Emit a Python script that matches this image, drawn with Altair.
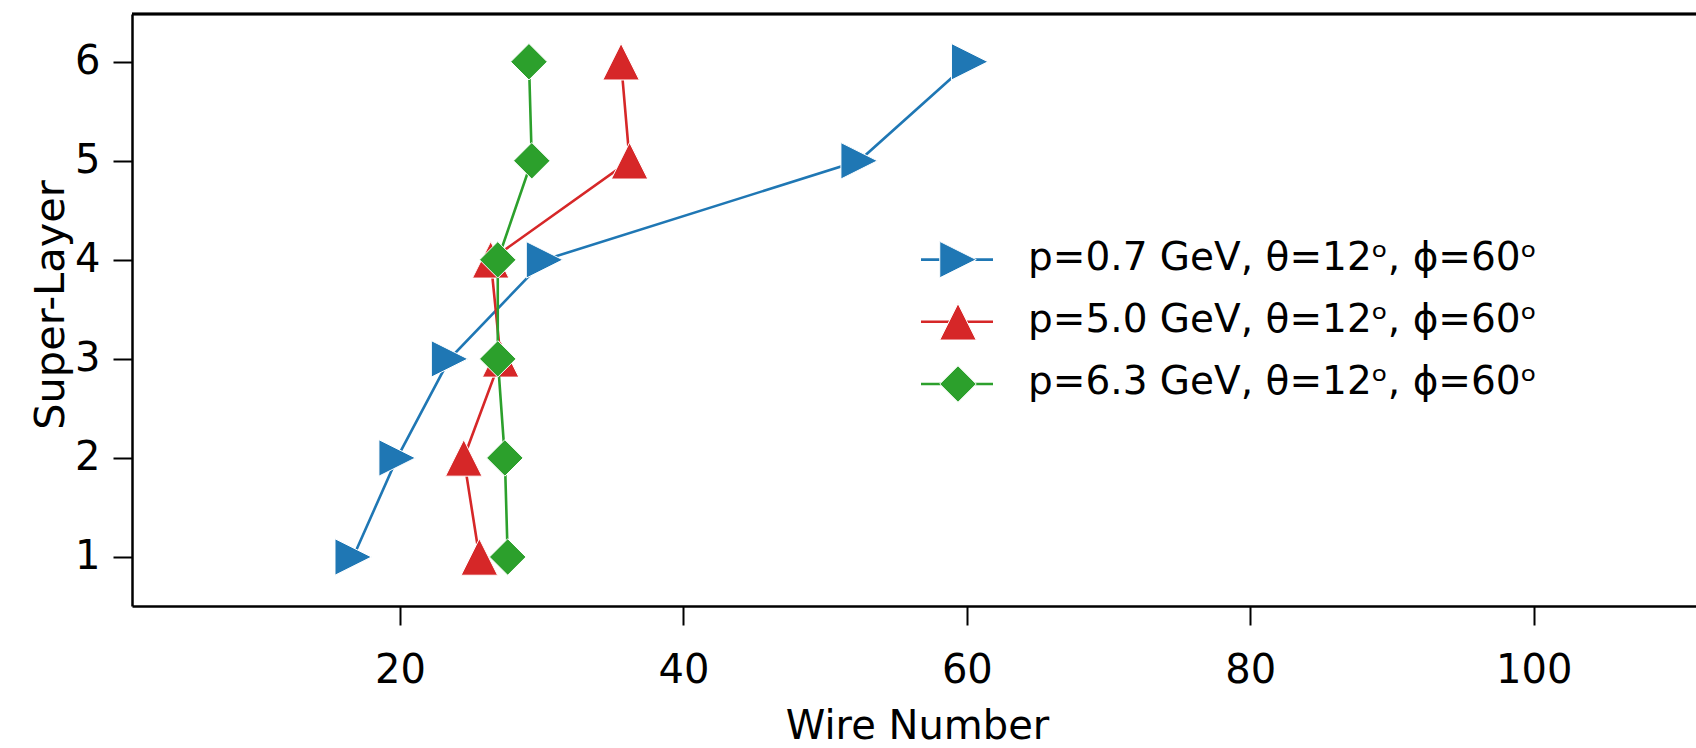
import altair as alt
import pandas as pd

# Super-layer index (y) and the mean wire number hit in each layer (x)
super_layers = [1, 2, 3, 4, 5, 6]
series_labels = [
    "p=0.7 GeV, θ=12ᵒ, ϕ=60ᵒ",
    "p=5.0 GeV, θ=12ᵒ, ϕ=60ᵒ",
    "p=6.3 GeV, θ=12ᵒ, ϕ=60ᵒ",
]
wire_p07 = [16.7, 19.8, 23.5, 30.2, 52.4, 60.2]
wire_p50 = [25.6, 24.5, 27.1, 26.4, 36.2, 35.6]
wire_p63 = [27.6, 27.4, 26.9, 26.9, 29.3, 29.1]
x_ticks = [20, 40, 60, 80, 100]

colors = ["#1f77b4", "#d62728", "#2ca02c"]
# triangle-right, triangle-up, diamond, each spanning the full [-1, 1] box
shapes = ["M1,0L-1,1L-1,-1Z", "M0,-1L1,1L-1,1Z", "M0,-1L1,0L0,1L-1,0Z"]

FONT = "DejaVu Sans"
W, H = 1564, 592

rows = []
for label, wires in zip(series_labels, [wire_p07, wire_p50, wire_p63]):
    for layer, wire in zip(super_layers, wires):
        rows.append({"series": label, "wire": wire, "layer": layer})
df = pd.DataFrame(rows)
legend_df = pd.DataFrame({"series": series_labels})

x_scale = alt.Scale(domain=[1.09, 111.45], nice=False, zero=False)
y_scale = alt.Scale(domain=[0.505, 6.482], nice=False, zero=False)
color_scale = alt.Scale(domain=series_labels, range=colors)
shape_scale = alt.Scale(domain=series_labels, range=shapes)

axis_common = dict(
    grid=False,
    domainColor="black",
    domainWidth=2.5,
    tickColor="black",
    tickWidth=2,
    tickSize=19,
    labelFont=FONT,
    labelFontSize=40,
    labelColor="black",
    labelFlush=False,
    labelOverlap=False,
    titleFont=FONT,
    titleFontWeight="normal",
    titleColor="black",
    titleBaseline="alphabetic",
    titleAlign="center",
)
x_axis = alt.Axis(values=x_ticks, title="Wire Number", labelPadding=25,
                  titleFontSize=40, titleX=785, titleY=132, **axis_common)
y_axis = alt.Axis(values=super_layers, title="Super-Layer", labelPadding=13,
                  titleFontSize=41.5, titleAngle=270, titleX=-69,
                  titleY=290.5, **axis_common)

x_enc = alt.X("wire:Q", scale=x_scale, axis=x_axis)
y_enc = alt.Y("layer:Q", scale=y_scale, axis=y_axis)
color_enc = alt.Color("series:N", scale=color_scale, legend=None)
shape_enc = alt.Shape("series:N", scale=shape_scale, legend=None)

# one line + its markers per series, drawn series by series
series_layers = []
for label in series_labels:
    base = alt.Chart(df).transform_filter(alt.datum.series == label)
    line = base.mark_line(strokeWidth=2.6).encode(
        x=x_enc, y=y_enc, color=color_enc, order="layer:Q"
    )
    pts = base.mark_point(filled=True, size=1330, stroke="white",
                          strokeWidth=1, opacity=1).encode(
        x=x_enc, y=y_enc, color=color_enc, shape=shape_enc
    )
    series_layers += [line, pts]

data_layer = alt.layer(*series_layers)

# top frame line
frame_top = alt.Chart(legend_df).mark_rule(color="black", strokeWidth=2.5).encode(
    x=alt.value(0), x2=alt.value(W), y=alt.value(0)
)

# legend: line stub + marker + label per series
leg_y = alt.Y("series:N", sort=series_labels, axis=None,
              scale=alt.Scale(type="point", domain=series_labels,
                              range=[245.6, 370], padding=0))
leg_base = alt.Chart(legend_df)
leg_line = leg_base.mark_rule(strokeWidth=2.6).encode(
    x=alt.value(789), x2=alt.value(861), y=leg_y, color=color_enc
)
leg_pt = leg_base.mark_point(filled=True, size=1330, stroke="white",
                             strokeWidth=1, opacity=1).encode(
    x=alt.value(826), y=leg_y, color=color_enc, shape=shape_enc
)
leg_text = leg_base.mark_text(align="left", baseline="alphabetic", dy=10,
                              font=FONT, fontSize=39, color="black").encode(
    x=alt.value(896), y=leg_y, text="series:N"
)
legend_layer = alt.layer(frame_top, leg_line, leg_pt, leg_text)

chart = (
    alt.layer(data_layer, legend_layer)
    .resolve_scale(y="independent")
    .properties(
        width=W,
        height=H,
        padding={"left": 132, "top": 14, "right": 0, "bottom": 140},
        autosize=alt.AutoSizeParams(type="none"),
        background="white",
    )
    .configure_view(stroke=None)
)

chart.save("out.html", embed_options={"renderer": "svg", "actions": False})
